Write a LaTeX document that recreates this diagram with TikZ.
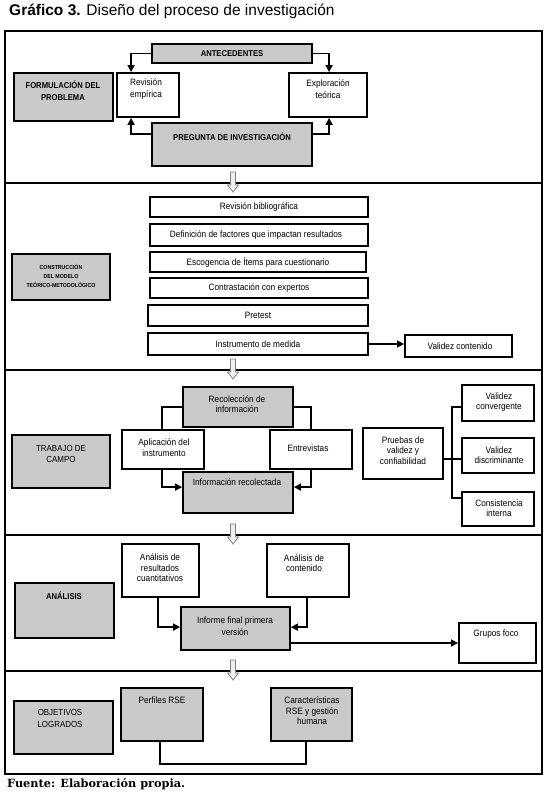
\documentclass[tikz,border=0pt]{standalone}
\usepackage{fontspec}
\setmainfont{Liberation Sans}
\newfontfamily\nar[FakeStretch=0.9]{Liberation Sans}
\newfontfamily\fuentefont{DejaVu Serif}
\usetikzlibrary{arrows.meta,calc}
\definecolor{boxgray}{HTML}{C9C9C9}
\definecolor{arrgray}{HTML}{808080}
\definecolor{arrfill}{HTML}{F0F0F0}
\newcommand{\rbox}[6]{%
 \pgfmathsetmacro\rbw{#5-#3}%
 \pgfmathsetmacro\rbh{#6-#4}%
 \node[#1, minimum width=\rbw pt, minimum height=\rbh pt] (#2) at ({(#3+#5)/2},{(#4+#6)/2}) {};}
\newcommand{\hdown}[2]{%
 \draw[harrow] (#1-2.5,#2) -- (#1+2.5,#2) -- (#1+2.5,#2+13) -- (#1+5.5,#2+13) -- (#1,#2+20) -- (#1-5.5,#2+13) -- (#1-2.5,#2+13) -- cycle;}
\begin{document}
\begin{tikzpicture}[x=1pt,y=-1pt,
  bx/.style={draw, line width=1.8pt, inner sep=0pt, fill=white},
  gbx/.style={bx, fill=boxgray},
  conn/.style={line width=1.5pt},
  arr/.style={conn, -{Triangle[length=7pt,width=7pt]}},
  frame/.style={line width=2pt},
  harrow/.style={draw=arrgray, fill=arrfill, line width=0.8pt, line join=miter},
  tx/.style={font=\nar\fontsize{9.2}{12}\selectfont, align=center, inner sep=0pt},
  txs/.style={font=\nar\fontsize{9.2}{10.5}\selectfont, align=center, inner sep=0pt},
  txb/.style={font=\nar\bfseries\fontsize{8.5}{12}\selectfont, align=center, inner sep=0pt},
  txr/.style={font=\nar\fontsize{8.8}{11.5}\selectfont, align=center, inner sep=0pt},
  txt/.style={font=\nar\bfseries\fontsize{5.8}{9}\selectfont, align=center, inner sep=0pt},
]
\useasboundingbox[fill=white] (0,0) rectangle (554,794);

% title and source
\node[anchor=base west, inner sep=0pt, font=\fontsize{15.5}{18}\selectfont] (title) at (9,16) {\textbf{Gráfico 3.} Diseño del proceso de investigación};
\node[anchor=base west, inner sep=0pt, font=\fuentefont\bfseries\fontsize{11.3}{13}\selectfont] (fuente) at (7,787) {Fuente: Elaboración propia.};

% frame
\draw[frame] (5,31) rectangle (542,774);
\draw[frame] (5,183) -- (542,183);
\draw[frame] (5,370) -- (542,370);
\draw[frame] (5,535) -- (542,535);
\draw[frame] (5,671) -- (542,671);

% ---------- section 1
\rbox{gbx}{ant}{152}{44}{312}{63}
\rbox{gbx}{form}{14}{73}{113}{121}
\rbox{bx}{rev}{117}{73}{179}{117}
\rbox{bx}{exp}{289}{73}{367}{117}
\rbox{gbx}{preg}{152}{123}{312}{166}
\node[txb] (antT) at (232,53.5) {ANTECEDENTES};
\node[txb] (formT) at (63,91) {FORMULACIÓN DEL\\PROBLEMA};
\node[tx] (revT) at (146,89.5) {Revisión\\empírica};
\node[tx] (expT) at (328,89.5) {Exploración\\teórica};
\node[txb] (pregT) at (232,137) {PREGUNTA DE INVESTIGACIÓN};
\draw[arr] (ant.west) -| ([xshift=15pt]rev.north west);
\draw[arr] (ant.east) -| ([xshift=41pt]exp.north west);
\draw[arr] ([yshift=-12pt]preg.north west) -| ([xshift=15pt]rev.south west);
\draw[arr] ([yshift=-12pt]preg.north east) -| ([xshift=41pt]exp.south west);

% ---------- section 2
\rbox{bx}{rb}{150}{197}{368}{217}
\rbox{bx}{def}{150}{224}{368}{246}
\rbox{bx}{esc}{150}{252}{366}{272}
\rbox{bx}{con}{150}{278}{368}{298}
\rbox{bx}{pre}{148}{305}{368}{326}
\rbox{bx}{ins}{148}{333}{368}{355}
\rbox{bx}{val}{405}{335}{512}{357}
\rbox{gbx}{cons}{12}{254}{110}{300}
\node[tx] (rbT) at (259,207) {Revisión bibliográfica};
\node[tx] (defT) at (256,235) {Definición de factores que impactan resultados};
\node[tx] (escT) at (258,262) {Escogencia de Ítems para cuestionario};
\node[tx] (conT) at (259,288) {Contrastación con expertos};
\node[tx] (preT) at (258,315.5) {Pretest};
\node[tx] (insT) at (258,344.5) {Instrumento de medida};
\node[tx] (valT) at (460,346) {Validez contenido};
\node[txt] (consT) at (61,276) {CONSTRUCCIÓN\\DEL MODELO\\TEÓRICO-METODOLÓGICO};
\draw[arr] (ins.east) -- (ins.east -| val.west);

% ---------- section 3
\rbox{gbx}{rec}{183}{387}{293}{427}
\rbox{bx}{apl}{122}{430}{204}{469}
\rbox{bx}{ent}{270}{430}{352}{469}
\rbox{gbx}{inf}{183}{472}{293}{513}
\rbox{gbx}{trab}{12}{435}{110}{488}
\rbox{bx}{pru}{363}{428}{443}{479}
\rbox{bx}{vc}{462}{385}{534}{421}
\rbox{bx}{vd}{462}{438}{534}{473}
\rbox{bx}{ci}{462}{492}{534}{526}
\node[txs] (recT) at (237,404) {Recolección de\\información};
\node[txs] (aplT) at (164,447.5) {Aplicación del\\instrumento};
\node[tx] (entT) at (308,448) {Entrevistas};
\node[tx] (infT) at (237,482) {Información recolectada};
\node[txr] (trabT) at (61,454) {TRABAJO DE\\CAMPO};
\node[txs] (pruT) at (403,450.5) {Pruebas de\\validez y\\confiabilidad};
\node[txs] (vcT) at (499,402) {Validez\\convergente};
\node[txs] (vdT) at (499,455) {Validez\\discriminante};
\node[txs] (ciT) at (499,508) {Consistencia\\interna};
\draw[conn] (rec.west) -| ([xshift=41pt]apl.north west);
\draw[conn] (rec.east) -| ([xshift=42pt]ent.north west);
\draw[arr] ([xshift=41pt]apl.south west) |- ([yshift=-16pt]inf.north west);
\draw[arr] ([xshift=42pt]ent.south west) |- ([yshift=-16pt]inf.north east);
\coordinate (br) at (452,459);
\draw[conn] (pru.east |- br) -- (vd.west |- br);
\draw[conn] ([yshift=-4pt]vc.west) -| (br) |- ([yshift=11pt]ci.west);

% ---------- section 4
\rbox{bx}{ar}{122}{544}{199}{597}
\rbox{bx}{ac}{267}{544}{349}{597}
\rbox{gbx}{inf2}{181}{607}{290}{650}
\rbox{gbx}{ana}{15}{583}{114}{638}
\rbox{bx}{gf}{459}{623}{536}{663}
\node[txs] (arT) at (160,568) {Análisis de\\resultados\\cuantitativos};
\node[txs] (acT) at (304,563) {Análisis de\\contenido};
\node[tx] (inf2T) at (235,626) {Informe final primera\\versión};
\node[txb] (anaT) at (64,596) {ANÁLISIS};
\node[tx] (gfT) at (496,634) {Grupos foco};
\draw[arr] ([xshift=37pt]ar.south west) |- ([yshift=-21pt]inf2.north west);
\draw[arr] ([xshift=41pt]ac.south west) |- ([yshift=-21pt]inf2.north east);
\draw[arr] (inf2.east |- gf.west) -- (gf.west);

% ---------- section 5
\rbox{gbx}{obj}{14}{701}{113}{754}
\rbox{gbx}{per}{121}{688}{203}{741}
\rbox{gbx}{car}{271}{688}{352}{741}
\node[txr] (objT) at (60,718.5) {OBJETIVOS\\LOGRADOS};
\node[tx] (perT) at (162,700) {Perfiles RSE};
\node[txs] (carT) at (312,711) {Características\\RSE y gestión\\humana};
\draw[conn] ([xshift=40pt]per.south west) |- ([xshift=36pt,yshift=-22pt]car.south west) -- ([xshift=36pt]car.south west);

% hollow arrows between sections
\hdown{233}{172}
\hdown{233}{359}
\hdown{233}{524}
\hdown{233}{660}
\end{tikzpicture}
\end{document}
